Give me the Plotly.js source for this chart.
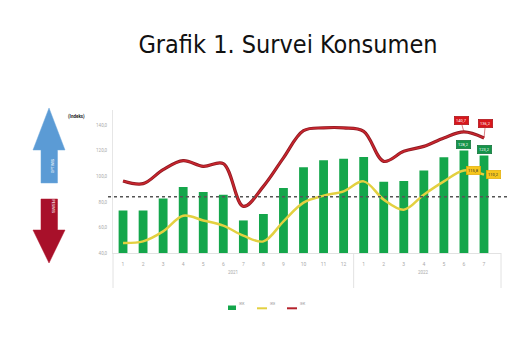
<!DOCTYPE html>
<html>
<head>
<meta charset="utf-8">
<script src="https://cdn.plot.ly/plotly-3.0.1.min.js"></script>
<style>html,body{margin:0;padding:0;background:#fff;}#chart{width:520px;height:350px;}</style>
</head>
<body>
<div id="chart"></div>
<script>
// ---- data ----
var years  = ["2021","2021","2021","2021","2021","2021","2021","2021","2021","2021","2021","2021","2022","2022","2022","2022","2022","2022","2022"];
var months = ["1","2","3","4","5","6","7","8","9","10","11","12","1","2","3","4","5","6","7"];
var IKK = [73.2, 73.2, 82.6, 91.7, 87.8, 85.7, 65.5, 70.6, 90.9, 107.1, 112.6, 113.9, 115.2, 95.9, 96.4, 104.7, 114.9, 120.2, 116.3];
var IKE = [47.8, 49.1, 56.9, 69.2, 65.5, 61.4, 53.6, 49.1, 64.8, 79.4, 84.9, 88.3, 96.1, 81.8, 73.9, 85.7, 96.1, 104.7, 101.4];
var IEK = [96.4, 94.3, 105.3, 112.3, 107.9, 110.0, 76.5, 92.2, 114.5, 135.8, 138.0, 138.0, 135.3, 111.8, 119.6, 123.5, 130.1, 134.8, 130.1];
var threshold = 84;
var yTickVals = [40, 60, 80, 100, 120, 140];
var yTickText = ["40,0", "60,0", "80,0", "100,0", "120,0", "140,0"];
var yearLabels = ["2021", "2022"];
var labelIdx = [17, 18];
var IKKlabels = ["128,2", "123,2"];
var IKElabels = ["115,8", "110,2"];
var IEKlabels = ["140,7", "136,2"];
var seriesNames = ["IKK", "IKE", "IEK"];

// ---- layout geometry ----
var W = 520, H = 350, mL = 113, mR = 19, mT = 110, mB = 97;
var pw = W - mL - mR, ph = H - mT - mB;
function px(x){ return (x - mL) / pw; }
function py(y){ return (H - mB - y) / ph; }
function poly(pts){ return "M" + pts.map(function(p){ return px(p[0]).toFixed(4) + "," + py(p[1]).toFixed(4); }).join(" L") + " Z"; }

var cats = years.map(function(y, i){ return y + "-" + months[i]; });
var cGreen = "#14a64b", cYellow = "#e3d040", cRed = "#b5222b";

var traces = [
  {type: "bar", x: cats, y: IKK, name: seriesNames[0], marker: {color: cGreen}, width: 0.44, hoverinfo: "skip"},
  {type: "scatter", mode: "lines", x: cats, y: IKE, name: seriesNames[1], line: {color: cYellow, width: 2.5, shape: "spline", smoothing: 1}},
  {type: "scatter", mode: "lines", x: cats, y: IEK, name: seriesNames[2], line: {color: "#8e1a22", width: 3.2, shape: "spline", smoothing: 1}},
  {type: "scatter", mode: "lines", x: cats, y: IEK, showlegend: false, line: {color: "#c9262e", width: 1.6, shape: "spline", smoothing: 1}}
];

// year group boundaries (category index positions)
var firstOf2022 = years.indexOf(yearLabels[1]);
var shapes = [
  {type: "line", xref: "paper", yref: "y", x0: px(108), x1: px(510), y0: threshold, y1: threshold, line: {color: "#555", width: 1.4, dash: "dot"}},
  // year dividers below the axis
  {type: "line", xref: "paper", yref: "paper", x0: 0, x1: 0, y0: 0, y1: py(288), line: {color: "#e2e2e2", width: 1}},
  {type: "line", xref: "x", yref: "paper", x0: firstOf2022 - 0.5, x1: firstOf2022 - 0.5, y0: 0, y1: py(288), line: {color: "#e2e2e2", width: 1}},
  {type: "line", xref: "paper", yref: "paper", x0: 1, x1: 1, y0: 0, y1: py(288), line: {color: "#e2e2e2", width: 1}},
  // blue "optimis" arrow
  {type: "path", xref: "paper", yref: "paper", path: poly([[49,108],[65,150],[57.5,150],[57.5,183],[41,183],[41,150],[33,150]]), fillcolor: "#5b9bd5", line: {color: "#6fa8dc", width: 0.5}},
  // red "pesimis" arrow
  {type: "path", xref: "paper", yref: "paper", path: poly([[41,199],[57.5,199],[57.5,230],[65,230],[49,263],[33,230],[41,230]]), fillcolor: "#a8102a", line: {color: "#b3162f", width: 0.5}},
  // manual legend marks
  {type: "rect", xref: "paper", yref: "paper", x0: px(228), x1: px(236), y0: py(310), y1: py(305.5), fillcolor: cGreen, line: {width: 0}},
  {type: "line", xref: "paper", yref: "paper", x0: px(257), x1: px(267), y0: py(308.3), y1: py(308.3), line: {color: cYellow, width: 2}},
  {type: "line", xref: "paper", yref: "paper", x0: px(287), x1: px(297), y0: py(308.3), y1: py(308.3), line: {color: cRed, width: 2}}
];

var annotations = [
  {xref: "x", yref: "paper", x: (firstOf2022 - 1) / 2, y: py(276.5), text: yearLabels[0], showarrow: false, font: {size: 4.5, color: "#aaa", family: "Roboto"}},
  {xref: "x", yref: "paper", x: (firstOf2022 + years.length - 1) / 2, y: py(276.5), text: yearLabels[1], showarrow: false, font: {size: 4.5, color: "#aaa", family: "Roboto"}},
  {xref: "paper", yref: "paper", x: px(49), y: py(166), text: "OPTIMIS", showarrow: false, textangle: -90, font: {size: 3.5, color: "#fff", family: "Roboto"}},
  {xref: "paper", yref: "paper", x: px(49), y: py(214), text: "PESIMIS", showarrow: false, textangle: 90, font: {size: 3.5, color: "#fff", family: "Roboto"}},
  {xref: "paper", yref: "paper", x: px(66), y: py(110.5), text: "<b>(Indeks)</b>", showarrow: false, font: {size: 4.5, color: "#222", family: "Roboto"}},
  {xref: "paper", yref: "paper", x: px(237), y: py(308), xanchor: "left", text: seriesNames[0], showarrow: false, font: {size: 3.5, color: "#999", family: "Roboto"}},
  {xref: "paper", yref: "paper", x: px(267.5), y: py(308), xanchor: "left", text: seriesNames[1], showarrow: false, font: {size: 3.5, color: "#999", family: "Roboto"}},
  {xref: "paper", yref: "paper", x: px(297.5), y: py(308), xanchor: "left", text: seriesNames[2], showarrow: false, font: {size: 3.5, color: "#999", family: "Roboto"}}
];
labelIdx.forEach(function(i, k){
  annotations.push({x: i, y: IKK[i], xref: "x", yref: "y", text: IKKlabels[k], showarrow: false, yanchor: "bottom", yshift: 2,
    bgcolor: "#15944a", bordercolor: "#0d6b33", borderwidth: 0.6, borderpad: 1.5, font: {size: 4, color: "#fff", family: "Roboto"}});
  annotations.push({x: i, y: IKE[i], xref: "x", yref: "y", text: IKElabels[k], showarrow: false, xanchor: "left", xshift: 2,
    bgcolor: "#f6c61c", bordercolor: "#e0a800", borderwidth: 0.6, borderpad: 1.5, font: {size: 4, color: "#333", family: "Roboto"}});
  annotations.push({x: i, y: IEK[i], xref: "x", yref: "y", text: IEKlabels[k], showarrow: true, arrowhead: 0, arrowwidth: 0.6, arrowcolor: "#c0262e",
    ax: (k === 0 ? -2 : 1), ay: (k === 0 ? -7 : -10), yanchor: "bottom",
    bgcolor: "#d8161c", bordercolor: "#a00d12", borderwidth: 0.6, borderpad: 1.5, font: {size: 4, color: "#fff", family: "Roboto"}});
});

var layout = {
  width: W, height: H,
  margin: {l: mL, r: mR, t: mT, b: mB, pad: 0},
  paper_bgcolor: "#fff", plot_bgcolor: "#fff",
  showlegend: false,
  title: {text: "Grafik 1. Survei Konsumen", x: 288 / W, xanchor: "center", y: 1 - 44 / H, yanchor: "middle", yref: "container",
    font: {family: "Liberation Sans Narrow, DejaVu Sans Condensed, Arial Narrow, sans-serif", size: 25, color: "#111"}},
  xaxis: {type: "category", tickvals: cats, ticktext: months, showgrid: false, showline: true, linecolor: "#e2e2e2", linewidth: 1,
    tickfont: {size: 5, color: "#aaa", family: "Roboto"}, ticks: "", ticklabelstandoff: 6, fixedrange: true},
  yaxis: {range: [40, 152], tickvals: yTickVals, ticktext: yTickText, showgrid: false, zeroline: false, showline: true, linecolor: "#e6e6e6",
    tickfont: {size: 4.5, color: "#aaa", family: "Roboto"}, ticks: "", ticklabelstandoff: 4, fixedrange: true},
  shapes: shapes,
  annotations: annotations,
  bargap: 0.56
};

Plotly.newPlot("chart", traces, layout, {displayModeBar: false, staticPlot: true});
</script>
</body>
</html>
